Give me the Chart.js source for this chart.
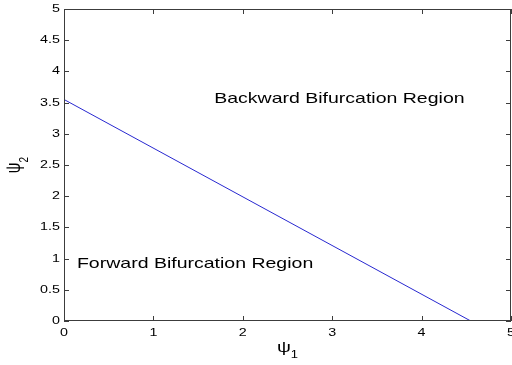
<!DOCTYPE html>
<html>
<head>
<meta charset="utf-8">
<script src="https://cdn.jsdelivr.net/npm/chart.js@4/dist/chart.umd.min.js"></script>
<style>
  html, body { margin: 0; padding: 0; background: #fff; }
  #wrap { width: 512px; height: 365px; position: relative; }
</style>
</head>
<body>
<div id="wrap"><canvas id="c" width="512" height="365"></canvas></div>
<script>
// Boundary between forward and backward bifurcation (psi1, psi2)
const boundaryPsi1 = [0, 4.55];
const boundaryPsi2 = [3.55, 0];

// Axis ranges and tick steps
const xRange = [0, 5];
const yRange = [0, 5];
const xStep = 1;
const yStep = 0.5;

// Region annotations: text with its (psi1, psi2) anchor
const regionLabels = ['Backward Bifurcation Region', 'Forward Bifurcation Region'];
const regionPsi1 = [1.68, 0.145];
const regionPsi2 = [3.5, 0.85];

const FONT = '"Liberation Sans", Arial, Helvetica, sans-serif';
const STRETCH = 1.3; // wide glyph rendering used for all text
const AXIS_COLOR = '#3c3c3c';
const TICK_LEN = 5;

function wideText(ctx, txt, x, y, align) {
  const w = ctx.measureText(txt).width * STRETCH;
  let x0 = x;
  if (align === 'center') x0 = x - w / 2;
  else if (align === 'right') x0 = x - w;
  ctx.save();
  ctx.translate(x0, y);
  ctx.scale(STRETCH, 1);
  ctx.textAlign = 'left';
  ctx.fillText(txt, 0, 0);
  ctx.restore();
  return w;
}

const framePlugin = {
  id: 'matlabFrame',
  afterDatasetsDraw(chart) {
    const { ctx, chartArea: a, scales } = chart;
    const xs = scales.x, ys = scales.y;
    ctx.save();
    // box
    ctx.strokeStyle = AXIS_COLOR;
    ctx.lineWidth = 1;
    ctx.strokeRect(a.left + 0.5, a.top + 0.5, a.right - a.left - 1, a.bottom - a.top - 1);
    // inward ticks on all four sides
    ctx.beginPath();
    xs.ticks.forEach(t => {
      const px = Math.round(xs.getPixelForValue(t.value)) + 0.5;
      ctx.moveTo(px, a.bottom); ctx.lineTo(px, a.bottom - TICK_LEN);
      ctx.moveTo(px, a.top); ctx.lineTo(px, a.top + TICK_LEN);
    });
    ys.ticks.forEach(t => {
      const py = Math.round(ys.getPixelForValue(t.value)) + 0.5;
      ctx.moveTo(a.left, py); ctx.lineTo(a.left + TICK_LEN, py);
      ctx.moveTo(a.right, py); ctx.lineTo(a.right - TICK_LEN, py);
    });
    ctx.stroke();

    // tick labels
    ctx.fillStyle = '#000';
    ctx.font = '11px ' + FONT;
    ctx.textBaseline = 'middle';
    ys.ticks.forEach(t => {
      wideText(ctx, String(t.value), a.left - 4, ys.getPixelForValue(t.value), 'right');
    });
    ctx.textBaseline = 'top';
    xs.ticks.forEach(t => {
      wideText(ctx, String(t.value), xs.getPixelForValue(t.value), a.bottom + 6, 'center');
    });

    // axis titles: psi_1 and psi_2
    ctx.textBaseline = 'alphabetic';
    const psiFont = '15px ' + FONT, subFont = '10px ' + FONT;
    ctx.font = psiFont;
    const psiW = ctx.measureText('\u03C8').width * STRETCH;
    ctx.font = subFont;
    const subW = ctx.measureText('1').width * STRETCH;
    const cx = (a.left + a.right) / 2;
    const x0 = cx - (psiW + subW) / 2;
    ctx.font = psiFont;
    wideText(ctx, '\u03C8', x0, 352, 'left');
    ctx.font = subFont;
    wideText(ctx, '1', x0 + psiW, 358, 'left');

    // rotated y title
    const cy = (a.top + a.bottom) / 2;
    ctx.save();
    ctx.translate(20, cy);
    ctx.scale(STRETCH, 1);
    ctx.rotate(-Math.PI / 2);
    ctx.font = psiFont;
    const pw = ctx.measureText('\u03C8').width;
    ctx.font = subFont;
    const sw = ctx.measureText('2').width;
    const start = -(pw + sw) / 2;
    ctx.font = psiFont;
    ctx.fillText('\u03C8', start, 0);
    ctx.font = subFont;
    ctx.fillText('2', start + pw, 6);
    ctx.restore();

    // region annotations
    ctx.font = '15px ' + FONT;
    ctx.textBaseline = 'alphabetic';
    regionLabels.forEach((txt, i) => {
      wideText(ctx, txt, xs.getPixelForValue(regionPsi1[i]), ys.getPixelForValue(regionPsi2[i]), 'left');
    });
    ctx.restore();
  }
};

new Chart(document.getElementById('c'), {
  type: 'scatter',
  data: {
    datasets: [{
      data: boundaryPsi1.map((x, i) => ({ x, y: boundaryPsi2[i] })),
      showLine: true,
      borderColor: '#2828d0',
      borderWidth: 1,
      pointRadius: 0,
      fill: false
    }]
  },
  options: {
    responsive: false,
    animation: false,
    devicePixelRatio: 1,
    layout: { padding: { left: 0, top: 9, right: 1, bottom: 0 } },
    plugins: { legend: { display: false }, tooltip: { enabled: false } },
    scales: {
      x: {
        type: 'linear', min: xRange[0], max: xRange[1],
        ticks: { display: false, stepSize: xStep },
        grid: { display: false }, border: { display: false },
        afterFit(s) { s.height = 44; s.paddingLeft = 0; s.paddingRight = 0; }
      },
      y: {
        type: 'linear', min: yRange[0], max: yRange[1],
        ticks: { display: false, stepSize: yStep },
        grid: { display: false }, border: { display: false },
        afterFit(s) { s.width = 64; s.paddingTop = 0; s.paddingBottom = 0; }
      }
    }
  },
  plugins: [framePlugin]
});
</script>
</body>
</html>
